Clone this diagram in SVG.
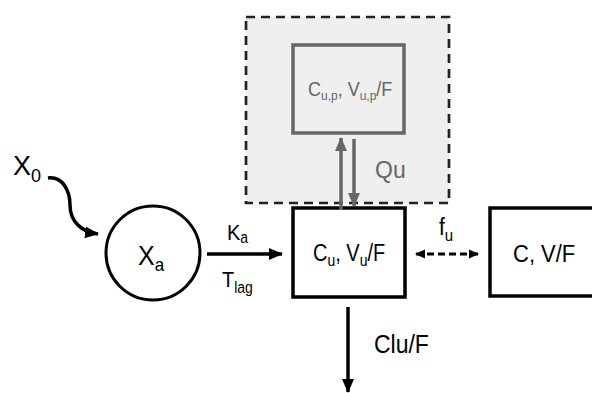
<svg xmlns="http://www.w3.org/2000/svg" width="592" height="393" viewBox="0 0 592 393">
<defs>
<style>
text{font-family:"Liberation Sans",Arial,Helvetica,sans-serif;fill:#000}
.grey{fill:#666}
.box{fill:#fff;stroke:#000;stroke-width:3.5}
.line{fill:none;stroke:#000;stroke-width:3.5}
.gline{fill:none;stroke:#666;stroke-width:3.5}
</style>
<marker id="ah" markerUnits="userSpaceOnUse" markerWidth="14" markerHeight="14" viewBox="0 0 14 14" refX="13" refY="7" orient="auto"><path d="M0,1 L14,7 L0,13 Z" fill="#000"/></marker>
<marker id="ahs" markerUnits="userSpaceOnUse" markerWidth="10" markerHeight="10" viewBox="0 0 10 10" refX="9" refY="5" orient="auto-start-reverse"><path d="M0,0.5 L10,5 L0,9.5 Z" fill="#000"/></marker>
<marker id="ahg" markerUnits="userSpaceOnUse" markerWidth="14" markerHeight="14" viewBox="0 0 14 14" refX="13" refY="7" orient="auto"><path d="M0,1 L14,7 L0,13 Z" fill="#666"/></marker>
</defs>
<rect width="592" height="393" fill="#fff"/>

<g id="peripheral-region">
<rect x="246" y="17" width="203" height="186" fill="#efefef" stroke="#222" stroke-width="2.7" stroke-dasharray="9 6"/>
</g>

<g id="peripheral">
<rect x="293" y="45" width="111" height="88" fill="#efefef" stroke="#666" stroke-width="3.5"/>
<text transform="translate(308,96) scale(1,1.1)" font-size="18" class="grey">C<tspan font-size="12" dy="4">u,p</tspan><tspan dy="-4">, V</tspan><tspan font-size="12" dy="4">u,p</tspan><tspan dy="-4">/F</tspan></text>
</g>

<g id="dose">
<text x="13" y="175" font-size="27">X<tspan font-size="18" dy="7">0</tspan></text>
</g>

<g id="absorption">
<circle cx="153" cy="253" r="47" fill="#fff" stroke="#000" stroke-width="3"/>
<text transform="translate(138,265) scale(1,1.1)" font-size="25">X<tspan font-size="17" dy="5">a</tspan></text>
</g>

<g id="central-unbound">
<rect class="box" x="293" y="208" width="112" height="89"/>
<text transform="translate(313,261) scale(1,1.15)" font-size="20">C<tspan font-size="14" dy="4">u</tspan><tspan dy="-4">, V</tspan><tspan font-size="14" dy="4">u</tspan><tspan dy="-4">/F</tspan></text>
</g>

<g id="central-total">
<rect class="box" x="490" y="208" width="120" height="88"/>
<text transform="translate(513,262) scale(1,1.12)" font-size="22">C, V/F</text>
</g>

<g id="connectors">
<path class="line" d="M48,178 C62,176 70,190 70,205 C70,222 82,232 98,234" marker-end="url(#ah)"/>
<line class="line" x1="207" y1="254" x2="282" y2="254" marker-end="url(#ah)"/>
<line x1="416" y1="254" x2="478" y2="254" stroke="#000" stroke-width="3" stroke-dasharray="7 4" marker-start="url(#ahs)" marker-end="url(#ahs)"/>
<line class="line" x1="348" y1="307" x2="348" y2="392" marker-end="url(#ah)"/>
<line class="gline" x1="341" y1="210" x2="341" y2="138" marker-end="url(#ahg)"/>
<line class="gline" x1="354" y1="139" x2="354" y2="206" marker-end="url(#ahg)"/>
<text transform="translate(227,240) scale(1,1.12)" font-size="20">K<tspan font-size="14" dy="3">a</tspan></text>
<text transform="translate(222,287) scale(1,1.12)" font-size="20">T<tspan font-size="14" dy="5">lag</tspan></text>
<text transform="translate(439,235) scale(1,1.1)" font-size="21">f<tspan font-size="15" dy="5">u</tspan></text>
<text transform="translate(374,353) scale(1,1.1)" font-size="23">Clu/F</text>
<text transform="translate(375,178) scale(1,1.05)" font-size="23" class="grey">Qu</text>
</g>
</svg>
